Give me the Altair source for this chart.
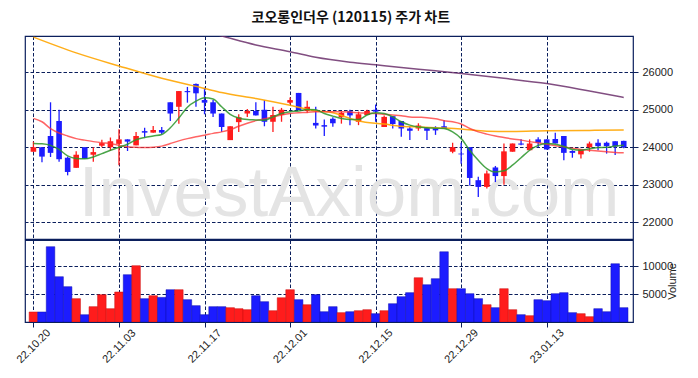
import altair as alt
import pandas as pd

# ---------------- data ----------------
dates = [
    "22.10.20", "22.10.21", "22.10.24", "22.10.25", "22.10.26", "22.10.27", "22.10.28", "22.10.31",
    "22.11.01", "22.11.02", "22.11.03", "22.11.04", "22.11.07", "22.11.08", "22.11.09", "22.11.10",
    "22.11.11", "22.11.14", "22.11.15", "22.11.16", "22.11.17", "22.11.18", "22.11.21", "22.11.22",
    "22.11.23", "22.11.24", "22.11.25", "22.11.28", "22.11.29", "22.11.30", "22.12.01", "22.12.02",
    "22.12.05", "22.12.06", "22.12.07", "22.12.08", "22.12.09", "22.12.12", "22.12.13", "22.12.14",
    "22.12.15", "22.12.16", "22.12.19", "22.12.20", "22.12.21", "22.12.22", "22.12.23", "22.12.26",
    "22.12.27", "22.12.28", "22.12.29", "23.01.02", "23.01.03", "23.01.04", "23.01.05", "23.01.06",
    "23.01.09", "23.01.10", "23.01.11", "23.01.12", "23.01.13", "23.01.16", "23.01.17", "23.01.18",
    "23.01.19", "23.01.20", "23.01.25", "23.01.26", "23.01.27", "23.01.30",
]
opens = [
    23880, 24000, 24300, 24700, 23720, 23450, 24000, 23800, 24040, 24000,
    24090, 24210, 24050, 24430, 24390, 24460, 25200, 25080, 25500, 25690,
    25260, 25200, 24900, 24190, 24670, 24900, 24970, 25000, 24680, 24860,
    25190, 25450, 24970, 24650, 24590, 24760, 24800, 24960, 24680, 24860,
    25000, 24540, 24830, 24700, 24500, 24500, 24510, 24510, 24560, 23880,
    23830, 24000, 23120, 22940, 23460, 23230, 23880, 24100, 23920, 24210,
    24210, 24220, 24300, 23900, 23810, 24000, 24120, 24120, 24160, 24170,
]
highs = [
    24150, 24000, 25200, 25000, 23750, 23890, 24000, 24000, 24200, 24260,
    24480, 24210, 24410, 24520, 24570, 24540, 25200, 25500, 25610, 25700,
    25590, 25260, 24900, 24560, 24880, 25020, 25200, 25260, 25080, 25050,
    25330, 25450, 25240, 25080, 24740, 24800, 24950, 25000, 24950, 25000,
    25140, 24850, 24830, 24700, 24560, 24640, 24510, 24560, 24720, 24120,
    24120, 24000, 23210, 23380, 23500, 24100, 24100, 24210, 24210, 24270,
    24210, 24390, 24300, 23920, 23940, 24150, 24210, 24150, 24160, 24170,
]
lows = [
    23880, 23600, 23740, 23610, 23250, 23450, 23690, 23610, 24000, 23900,
    23520, 23900, 24050, 24260, 24390, 24350, 24700, 24630, 25190, 25080,
    24880, 24810, 24410, 24190, 24410, 24810, 24850, 24560, 24410, 24680,
    25150, 24990, 24920, 24500, 24300, 24550, 24630, 24590, 24590, 24860,
    24680, 24540, 24500, 24280, 24190, 24440, 24190, 24330, 24500, 23840,
    23560, 22980, 22670, 22900, 23070, 23000, 23880, 24050, 23920, 24000,
    23940, 24100, 23650, 23720, 23700, 23880, 23920, 23830, 23790, 23970,
]
closes = [
    24000, 23750, 23850, 23680, 23340, 23800, 23690, 23870, 24110, 24160,
    24210, 24150, 24300, 24390, 24460, 24390, 24900, 25500, 25470, 25440,
    25190, 24900, 24540, 24560, 24800, 24970, 24850, 24680, 24860, 25000,
    25260, 24990, 25080, 24580, 24550, 24640, 24920, 24850, 24880, 24970,
    24950, 24810, 24620, 24500, 24440, 24580, 24440, 24450, 24500, 24000,
    23810, 23180, 22940, 23300, 23230, 23890, 24100, 24070, 24100, 24120,
    23940, 24100, 23850, 23850, 23940, 24100, 24030, 24030, 24020, 24000,
]
volumes = [
    1790, 1790, 13450, 8090, 6310, 4170, 1310, 2740, 4880, 2380,
    5360, 8450, 10060, 4170, 4700, 4400, 5770, 5770, 3990, 2920,
    1310, 2740, 2740, 2560, 2380, 2200, 4700, 3630, 2020, 4340,
    5770, 3990, 3090, 4880, 1840, 2740, 1670, 1840, 2020, 2200,
    1490, 2020, 3270, 4520, 5240, 7910, 6660, 7740, 12550, 5950,
    5950, 5060, 4170, 3090, 2560, 5950, 2200, 1310, 1130, 3990,
    3810, 5060, 5240, 1670, 1490, 950, 2380, 1840, 10410, 2560,
]
ma5 = [
    24100, 24090, 24050, 23940, 23770, 23700, 23690, 23740, 23830, 23920,
    24000, 24080, 24200, 24260, 24300, 24340, 24520, 24780, 25070, 25230,
    25320, 25290, 25080, 24880, 24780, 24740, 24730, 24720, 24810, 24900,
    24950, 24970, 25010, 25000, 24900, 24830, 24770, 24740, 24740, 24860,
    24920, 24900, 24810, 24680, 24590, 24540, 24520, 24510, 24500, 24410,
    24230, 23920, 23650, 23430, 23340, 23370, 23520, 23720, 23920, 24050,
    24100, 24080, 24020, 23940, 23920, 23960, 23990, 24000, 24030, 24050,
]
ma20 = [
    24770, 24680, 24500, 24380, 24300, 24230, 24190, 24150, 24120, 24100,
    24050, 24010, 24000, 23990, 24000, 24030, 24100, 24170, 24230, 24280,
    24320, 24370, 24410, 24470, 24560, 24640, 24710, 24760, 24810, 24860,
    24900, 24920, 24930, 24950, 24950, 24950, 24950, 24940, 24920, 24910,
    24900, 24880, 24860, 24840, 24810, 24800, 24790, 24760, 24710, 24680,
    24620, 24500, 24410, 24350, 24300, 24260, 24220, 24190, 24150, 24120,
    24080, 24040, 24010, 23970, 23940, 23920, 23900, 23880, 23860, 23850,
]
ma60_idx = [0, 5, 10, 15, 20, 22, 26, 30, 33, 35, 37, 38, 41, 43, 45, 47, 50, 53, 56, 60, 65, 69]
ma60_val = [26940, 26520, 26170, 25840, 25570, 25460, 25300, 25120, 24970, 24920, 24770, 24700,
            24620, 24560, 24540, 24520, 24490, 24430, 24420, 24440, 24450, 24460]
ma120_idx = [21, 22, 26, 30, 33, 37, 40, 43, 47, 50, 55, 60, 65, 69]
ma120_val = [27030, 26970, 26730, 26550, 26400, 26270, 26200, 26130, 26040, 25970, 25840, 25700,
             25500, 25330]

title_text = "코오롱인더우 (120115) 주가 차트"
price_ticks = [22000, 23000, 24000, 25000, 26000]
volume_ticks = [5000, 10000]
x_ticks = [0, 10, 20, 30, 40, 50, 60]

# ---------------- tables ----------------
df = pd.DataFrame({
    "idx": list(range(len(dates))), "date": dates,
    "open": opens, "high": highs, "low": lows, "close": closes,
    "volume": volumes, "ma5": ma5, "ma20": ma20,
})
df["dir"] = ["up" if c >= o else "down" for o, c in zip(opens, closes)]
df60 = pd.DataFrame({"idx": ma60_idx, "ma": ma60_val})
df120 = pd.DataFrame({"idx": ma120_idx, "ma": ma120_val})
wm = pd.DataFrame({"t": ["InvestAxiom.com"]})

# ---------------- style ----------------
RED = "#ff1c1c"
BLUE = "#1c1cff"
GRID = "#0b1f5c"
TXT = "#222222"
LBL_FONT = "Liberation Sans"

label_expr = " : ".join(f"datum.value == {i} ? '{dates[i]}'" for i in x_ticks) + " : ''"

xscale = alt.Scale(domain=[-0.4, 69.5], nice=False, zero=False)
pscale = alt.Scale(domain=[21550, 26970], nice=False, zero=False)
vscale = alt.Scale(domain=[0, 14650], nice=False, zero=False)

x_axis_top = alt.Axis(values=x_ticks, grid=True, gridColor=GRID, gridDash=[3.5, 2], gridWidth=1,
                      labels=False, ticks=False, domain=False, title=None)
x_axis_bottom = alt.Axis(values=x_ticks, grid=True, gridColor=GRID, gridDash=[3.5, 2], gridWidth=1,
                         labelExpr=label_expr, labelAngle=-45, labelAlign="center",
                         labelBaseline="middle", labelPadding=19, tickSize=5, tickColor=GRID,
                         domain=False, title=None, labelFont=LBL_FONT, labelFontSize=11,
                         labelColor=TXT, labelFlush=False, labelOverlap=False)
p_axis = alt.Axis(orient="right", values=price_ticks, format="d", grid=True, gridColor=GRID,
                  gridDash=[3.5, 2], gridWidth=1, tickSize=5, tickColor=GRID, domain=False,
                  labelPadding=4, labelFont=LBL_FONT, labelFontSize=11, labelColor=TXT, title=None)
v_axis = alt.Axis(orient="right", values=volume_ticks, format="d", grid=True, gridColor=GRID,
                  gridDash=[3.5, 2], gridWidth=1, tickSize=5, tickColor=GRID, domain=False,
                  labelPadding=4, labelFont=LBL_FONT, labelFontSize=11, labelColor=TXT,
                  title="Volume", titleAngle=270, titleFont=LBL_FONT, titleFontSize=11,
                  titleFontWeight="normal", titleColor=TXT, titlePadding=5)

color_enc = alt.Color("dir:N", scale=alt.Scale(domain=["up", "down"], range=[RED, BLUE]), legend=None)

base = alt.Chart(df)

watermark = alt.Chart(wm).mark_text(
    font=LBL_FONT, fontSize=71, color="#e4e4e4", align="center", baseline="alphabetic"
).encode(text="t:N", x=alt.value(324), y=alt.value(180))

wicks = base.mark_rule(strokeWidth=1.3, clip=True).encode(
    x=alt.X("idx:Q", scale=xscale, axis=x_axis_top),
    y=alt.Y("low:Q", scale=pscale, axis=p_axis),
    y2="high:Q",
    color=color_enc,
)
bodies = base.mark_bar(size=5.6, clip=True).encode(
    x=alt.X("idx:Q", scale=xscale, axis=x_axis_top),
    y=alt.Y("open:Q", scale=pscale, axis=p_axis),
    y2="close:Q",
    color=color_enc,
)


def ma_line(src, field, col, op=0.85):
    return alt.Chart(src).mark_line(color=col, strokeWidth=1.5, opacity=op,
                                    interpolate="monotone", clip=True).encode(
        x=alt.X("idx:Q", scale=xscale, axis=x_axis_top),
        y=alt.Y(f"{field}:Q", scale=pscale, axis=p_axis),
    )


price = alt.layer(
    watermark, wicks, bodies,
    ma_line(df120, "ma", "#6b2f6b", 0.85),
    ma_line(df60, "ma", "#ffa500", 0.9),
    ma_line(df, "ma20", "#ff3030", 0.75),
    ma_line(df, "ma5", "#2a952a", 0.85),
).properties(width=608, height=203)

vol = base.transform_calculate(
    x0="datum.idx - 0.5", x1="datum.idx + 0.5"
).mark_bar(clip=True, strokeWidth=0.5, orient="vertical").encode(
    x=alt.X("x0:Q", scale=xscale, axis=x_axis_bottom),
    x2="x1:Q",
    y=alt.Y("volume:Q", scale=vscale, axis=v_axis),
    y2=alt.datum(0),
    color=color_enc,
    stroke=alt.Stroke("dir:N", scale=alt.Scale(domain=["up", "down"], range=["#c81010", "#1010b0"]),
                      legend=None),
).properties(width=608, height=82)

chart = alt.vconcat(
    price, vol, spacing=1, bounds="flush",
    title=alt.TitleParams(title_text, font="Noto Sans CJK KR", fontSize=14, fontWeight="bold",
                          color="#111111", anchor="middle", dx=5, offset=10),
).properties(
    padding={"left": 13, "top": 11, "right": 5, "bottom": 5},
).configure_view(stroke=GRID, strokeWidth=1.2)

chart.save("out.html", embed_options={"renderer": "svg", "actions": False})
